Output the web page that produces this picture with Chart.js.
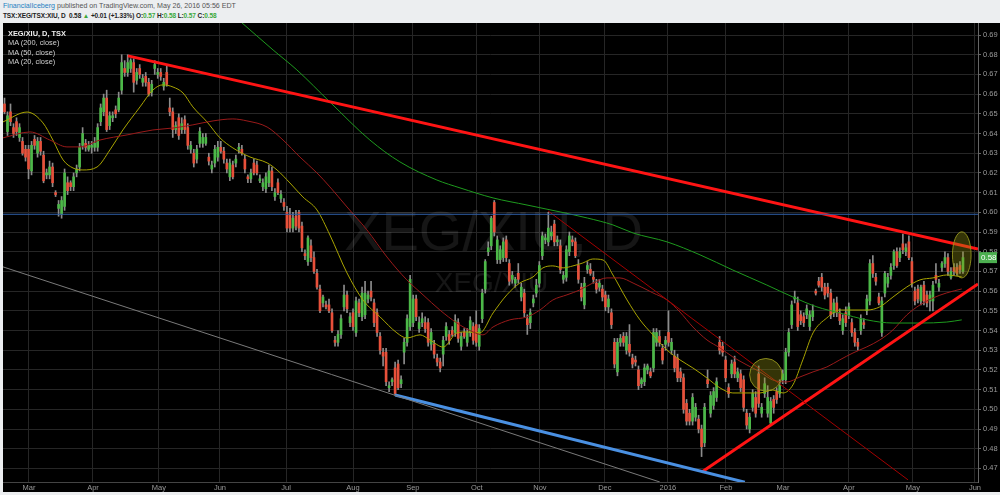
<!DOCTYPE html>
<html>
<head>
<meta charset="utf-8">
<script src="https://cdn.jsdelivr.net/npm/chart.js@4.4.1/dist/chart.umd.min.js"></script>
<style>
  html, body { margin: 0; padding: 0; width: 1000px; height: 495px; overflow: hidden; background: #eceef0; font-family: "Liberation Sans", Arial, sans-serif; }
  #head { position: absolute; left: 3px; top: 1px; font-size: 7.1px; line-height: 10px; color: #555; white-space: nowrap; }
  #head .l2 { color: #222; font-weight: bold; font-size: 6.5px; letter-spacing: -0.1px; }
  #head .g { color: #3aa83a; }
  #wrap { position: absolute; left: 3px; top: 23px; width: 997px; height: 469px; }
  #legend { position: absolute; left: 8px; top: 29px; font-size: 7.4px; line-height: 9.4px; color: #cfcfcf; white-space: nowrap; }
  #legend .t { color: #eee; font-weight: bold; }
</style>
</head>
<body>
<div id="head">
  <div><span style="color:#1f7fc1">FinancialIceberg</span> published on TradingView.com, May 26, 2016 05:56 EDT</div>
  <div class="l2">TSX:XEG/TSX:XIU, D&nbsp; 0.58 <span class="g">▲</span> +0.01 (+1.33%) O:<span class="g">0.57</span> H:<span class="g">0.58</span> L:<span class="g">0.57</span> C:<span class="g">0.58</span></div>
</div>
<div id="wrap"><canvas id="chart" width="997" height="469"></canvas></div>
<div id="legend">
  <div class="t">XEG/XIU, D, TSX</div>
  <div>MA (200, close)</div>
  <div>MA (50, close)</div>
  <div>MA (20, close)</div>
</div>
<script>
// daily candles, Feb 2015 -> May 26 2016  [open, high, low, close]
const ohlc = [
  [.655,.658,.650,.651],[.641,.651,.639,.649],[.651,.655,.644,.646],[.643,.645,.638,.640],[.646,.648,.639,.641],
  [.638,.645,.636,.643],[.636,.638,.629,.630],[.632,.634,.626,.628],[.632,.634,.617,.622],[.621,.636,.619,.634],
  [.637,.639,.632,.634],[.630,.638,.628,.636],[.636,.638,.629,.631],[.629,.631,.615,.616],[.619,.622,.617,.620],
  [.619,.626,.617,.623],[.623,.625,.613,.615],[.610,.611,.608,.609],[.602,.606,.598,.604],[.599,.608,.597,.606],
  [.603,.622,.601,.620],[.615,.618,.609,.611],[.615,.616,.611,.613],[.613,.620,.611,.618],[.620,.624,.618,.622],
  [.623,.635,.621,.633],[.634,.643,.632,.640],[.635,.637,.631,.633],[.632,.636,.631,.634],[.633,.636,.630,.634],
  [.633,.638,.631,.635],[.633,.645,.631,.643],[.646,.655,.644,.653],[.651,.660,.649,.658],[.658,.662,.641,.642],
  [.644,.651,.642,.649],[.648,.651,.646,.649],[.652,.654,.648,.650],[.652,.661,.651,.658],[.662,.680,.660,.676],
  [.673,.677,.669,.671],[.671,.680,.669,.676],[.673,.678,.671,.677],[.676,.678,.661,.666],[.667,.673,.665,.671],
  [.673,.675,.668,.670],[.666,.670,.664,.668],[.669,.671,.664,.666],[.666,.668,.659,.660],[.661,.667,.659,.665],
  [.673,.677,.670,.675],[.670,.673,.668,.671],[.671,.673,.667,.669],[.664,.668,.662,.666],[.671,.675,.664,.665],
  [.653,.658,.649,.651],[.651,.653,.638,.642],[.642,.646,.640,.644],[.648,.650,.637,.639],[.642,.648,.640,.645],
  [.647,.649,.640,.642],[.643,.645,.632,.634],[.632,.636,.630,.634],[.630,.632,.623,.625],[.627,.634,.625,.632],
  [.635,.643,.633,.641],[.635,.640,.633,.638],[.635,.640,.634,.638],[.628,.630,.624,.626],[.622,.626,.620,.624],
  [.625,.634,.623,.632],[.628,.636,.626,.633],[.633,.636,.630,.631],[.631,.633,.625,.627],[.625,.627,.620,.622],
  [.618,.627,.616,.625],[.624,.626,.617,.618],[.625,.629,.623,.627],[.632,.635,.630,.633],[.632,.634,.629,.630],
  [.627,.629,.620,.622],[.618,.619,.615,.617],[.617,.622,.615,.620],[.625,.627,.619,.620],[.624,.626,.619,.620],
  [.616,.619,.615,.617],[.613,.617,.611,.615],[.612,.620,.610,.618],[.615,.624,.613,.621],[.621,.623,.611,.613],
  [.608,.612,.606,.610],
  [.615,.617,.609,.610],[.607,.611,.605,.609],[.605,.607,.601,.603],[.600,.603,.590,.592],[.599,.602,.590,.592],
  [.592,.600,.590,.597],[.598,.601,.591,.593],[.600,.601,.590,.592],[.593,.595,.580,.582],[.579,.581,.576,.578],
  [.575,.588,.573,.587],[.583,.586,.575,.577],[.577,.580,.569,.570],[.569,.571,.561,.562],[.561,.563,.549,.550],
  [.554,.558,.552,.557],[.553,.555,.551,.552],[.553,.556,.549,.550],[.549,.551,.539,.540],[.535,.537,.532,.534],
  [.534,.540,.532,.538],[.538,.548,.536,.546],[.552,.563,.550,.558],[.558,.560,.549,.551],[.544,.549,.542,.547],
  [.549,.551,.540,.542],[.539,.557,.537,.555],[.554,.556,.547,.549],[.547,.562,.545,.559],[.548,.565,.546,.559],
  [.556,.560,.554,.558],[.560,.565,.555,.557],[.554,.556,.542,.544],[.549,.551,.537,.539],[.537,.539,.528,.530],
  [.529,.531,.522,.527],[.529,.531,.512,.514],[.511,.514,.509,.512],[.514,.516,.512,.515],[.521,.524,.507,.508],
  [.523,.525,.510,.511],[.513,.517,.511,.515],[.529,.536,.523,.534],[.534,.548,.532,.546],[.542,.568,.540,.566],
  [.544,.558,.542,.556],[.556,.558,.545,.547],[.541,.547,.539,.544],[.544,.549,.542,.546],[.544,.547,.539,.541],
  [.544,.546,.532,.534],[.533,.541,.530,.539],[.533,.535,.526,.528],[.526,.528,.522,.524],[.524,.526,.519,.521],
  [.528,.537,.522,.535],[.537,.544,.535,.542],[.538,.540,.533,.535],[.540,.542,.537,.538],[.539,.548,.537,.545],
  [.544,.546,.534,.536],[.532,.539,.530,.537],[.539,.541,.536,.537],[.534,.541,.532,.539],[.539,.547,.537,.545],
  [.542,.544,.533,.535],[.543,.550,.532,.534],[.532,.543,.530,.541],[.546,.561,.544,.559],[.561,.576,.559,.575],
  [.580,.585,.578,.582],[.583,.598,.581,.597],[.605,.606,.588,.590],[.576,.588,.574,.586],[.576,.583,.574,.581],
  [.577,.587,.575,.585],[.586,.588,.575,.577],[.574,.576,.563,.565],[.566,.570,.564,.568],[.564,.567,.562,.566],
  [.569,.574,.564,.566],[.557,.564,.555,.562],[.559,.561,.547,.549],[.546,.548,.538,.543],[.544,.551,.541,.549],
  [.554,.558,.552,.556],[.559,.566,.557,.563],[.564,.575,.562,.573],[.578,.590,.576,.588],[.586,.589,.584,.587],
  [.585,.600,.583,.592],[.588,.593,.586,.590],[.594,.596,.583,.585],[.585,.588,.583,.586],[.583,.586,.569,.571],
  [.566,.570,.564,.568],[.567,.583,.565,.581],[.580,.590,.578,.588],[.586,.588,.583,.585],[.585,.587,.577,.578],
  [.573,.576,.564,.566],[.562,.564,.555,.557],[.553,.567,.551,.564],[.571,.575,.569,.573],[.571,.574,.568,.569],
  [.567,.570,.564,.566],[.564,.566,.559,.561],[.562,.566,.560,.564],[.561,.563,.555,.557],[.558,.560,.550,.552],
  [.552,.558,.549,.556],[.549,.551,.541,.543],[.534,.536,.521,.523],[.519,.536,.517,.534],[.534,.538,.532,.536],
  [.537,.539,.532,.534],[.530,.539,.528,.537],[.533,.543,.527,.529],[.526,.528,.521,.523],[.525,.527,.522,.524],
  [.520,.522,.510,.512],[.513,.516,.511,.515],[.514,.523,.512,.521],[.520,.523,.518,.522],[.519,.521,.516,.517],
  [.521,.541,.519,.539],[.534,.541,.532,.539],[.537,.540,.532,.534],[.531,.533,.523,.525],[.533,.537,.530,.535],
  [.539,.550,.532,.534],[.530,.536,.528,.534],[.527,.530,.519,.521],[.526,.528,.514,.516],[.519,.521,.514,.516],
  [.516,.518,.498,.500],[.503,.505,.492,.494],[.498,.500,.492,.494],[.494,.508,.492,.506],[.496,.503,.494,.501],
  [.495,.497,.488,.490],[.490,.492,.476,.481],[.483,.503,.481,.501],[.515,.520,.511,.513],[.498,.509,.496,.507],
  [.502,.511,.500,.509],[.506,.516,.504,.514],[.534,.537,.528,.530],[.532,.534,.527,.529],[.525,.527,.514,.516],
  [.511,.513,.506,.508],[.518,.525,.516,.523],[.524,.527,.516,.518],[.516,.521,.514,.519],[.518,.520,.509,.511],
  [.515,.517,.499,.501],[.498,.500,.490,.492],[.490,.498,.488,.496],[.501,.510,.499,.508],[.506,.509,.496,.498],
  [.518,.522,.501,.503],[.498,.503,.496,.501],[.508,.516,.506,.513],[.498,.512,.496,.506],[.493,.506,.492,.504],
  [.505,.507,.498,.501],[.509,.511,.503,.505],[.508,.515,.506,.512],[.515,.520,.513,.518],[.515,.531,.513,.529],
  [.529,.541,.527,.539],[.543,.555,.541,.553],[.556,.560,.554,.557],[.554,.557,.540,.542],[.548,.550,.543,.545],
  [.547,.549,.542,.544],[.548,.553,.546,.551],[.542,.550,.540,.548],[.547,.553,.545,.550],[.560,.561,.558,.559],
  [.565,.567,.562,.563],[.567,.569,.560,.562],[.562,.564,.556,.558],[.562,.564,.557,.559],[.559,.561,.546,.548],
  [.549,.556,.547,.554],[.554,.557,.547,.549],[.549,.551,.543,.545],[.540,.548,.538,.546],[.549,.552,.542,.544],
  [.548,.554,.546,.552],[.544,.546,.537,.539],[.539,.541,.532,.534],[.534,.536,.530,.532],[.540,.548,.538,.546],
  [.544,.546,.541,.543],[.550,.558,.548,.556],[.555,.576,.553,.574],[.574,.578,.567,.569],[.567,.569,.563,.565],
  [.557,.559,.553,.554],[.539,.557,.537,.555],[.559,.570,.557,.569],[.564,.569,.562,.567],[.568,.574,.566,.572],
  [.573,.581,.571,.580],[.580,.582,.572,.573],[.577,.582,.575,.580],[.584,.589,.579,.581],[.580,.584,.578,.582],
  [.585,.588,.576,.577],[.575,.577,.562,.564],[.560,.562,.553,.555],[.561,.563,.554,.556],[.555,.563,.553,.562],
  [.563,.565,.553,.555],[.558,.560,.552,.554],[.555,.560,.550,.558],[.555,.565,.550,.563],[.568,.574,.564,.566],
  [.562,.566,.560,.564],[.572,.575,.570,.574],[.574,.580,.572,.577],[.577,.579,.568,.570],[.567,.572,.566,.570],
  [.572,.574,.568,.570],[.572,.574,.568,.569],[.573,.575,.569,.571],[.570,.580,.569,.577]
];

// moving averages  [bar index, value]
const ma20 = [
  [-0.5,.6459],[7.5,.6509],[12.8,.6454],[16.1,.6367],[19.5,.6266],[22.8,.6225],[26.1,.6215],[30.8,.6230],
  [35.1,.6317],[39.4,.6418],[45.1,.6535],[49.4,.6621],[52.7,.6647],[56.1,.6636],[59.4,.6606],[62.7,.6535],
  [67.4,.6459],[71.7,.6378],[76,.6327],[81.7,.6281],[87.4,.6251],[90.7,.6215],[95,.6149],[99.3,.6078],
  [104,.6012],[108.3,.5885],[114,.5692],[119.3,.5555],[125,.5469],[130.6,.5388],[133.9,.5362],[138.3,.5378],
  [141.6,.5352],[146,.5316],[150.6,.5388],[154,.5393],[158.2,.5388],[162.6,.5489],[167.2,.5581],[171.5,.5641],
  [175.9,.5672],[179.2,.5718],[182.5,.5728],[185.9,.5718],[189.2,.5728],[192.5,.5743],[195.8,.5763],[199.2,.5758],
  [202.5,.5682],[207.2,.5555],[211.5,.5454],[215.8,.5378],[220.5,.5301],[224.8,.5251],[229.1,.5210],[233.8,.5159],
  [238.1,.5109],[242.4,.5083],[247.1,.5083],[251.4,.5083],[255.7,.5098],[259.1,.5083],[262.4,.5124],[265.7,.5251],
  [269.1,.5388],[273.7,.5464],[278,.5504],[282.4,.5504],[287,.5504],[291.3,.5520],[295.7,.5570],[300.3,.5621],
  [304.7,.5657],[309,.5667],[313.6,.5682],[318.6,.5672]
];
const ma50 = [
  [-0.5,.6378],[8.5,.6408],[15.1,.6367],[20.8,.6332],[25.1,.6332],[31.8,.6367],[40.8,.6393],[49.4,.6418],
  [56.1,.6428],[62.7,.6444],[69.4,.6464],[76,.6474],[80.7,.6464],[87.4,.6433],[92.7,.6367],[98.3,.6281],
  [104,.6200],[108.3,.6129],[114,.6027],[120.6,.5911],[127.3,.5773],[133.9,.5657],[139.3,.5581],[144.9,.5504],
  [150.6,.5438],[155.9,.5393],[159.2,.5378],[162.6,.5418],[168.2,.5454],[173.9,.5469],[178.2,.5504],[182.5,.5555],
  [187.2,.5581],[191.5,.5606],[195.8,.5641],[200.5,.5667],[204.8,.5667],[209.2,.5641],[215.8,.5591],[220.5,.5555],
  [224.8,.5494],[229.1,.5418],[233.8,.5352],[238.1,.5312],[242.4,.5266],[247.1,.5225],[251.4,.5190],[255.7,.5149],
  [260.4,.5139],[264.7,.5164],[269.1,.5190],[273.7,.5215],[278,.5251],[282.4,.5286],[287,.5317],[291.3,.5352],
  [295.7,.5403],[300.3,.5479],[304.7,.5530],[309,.5565],[313.6,.5591],[318.6,.5611]
];
const ma200 = [
  [73.4,.7037],[89.4,.6824],[97.3,.6723],[108.3,.6560],[121.6,.6367],[131.6,.6256],[143.9,.6164],[151.6,.6124],
  [162.6,.6073],[173.9,.6037],[184.9,.6002],[194,.5971],[202.5,.5936],[209.2,.5895],[220.5,.5850],[231.5,.5784],
  [242.4,.5707],[253.7,.5631],[262.4,.5570],[270.4,.5520],[278,.5489],[287,.5454],[295.7,.5438],[304.7,.5438],
  [313.6,.5443],[318.6,.5454]
];

// drawn trend lines  [bar index, value] endpoints
const resistance = [[41.1, .6794], [324, .5814]];
const support = [[232.1, .4682], [324, .5636]];
const lowerBlue = [[130, .5073], [246.4, .4630]];
const greyLine = [[-0.5, .5723], [218.1, .4631]];
const thinRed = [[180.9, .6007], [300.7, .4642]];
const level = [[-0.5, .599], [324, .599]];

// yellow highlight marks  (centre index/value, half width in bars, half height in price)
const highlights = [
  { x: 253.4, y: .5175, rx: 5.4, ry: .0083 },
  { x: 318.6, y: .5784, rx: 3.1, ry: .0117 }
];

const monthTicks = [8.15, 29.45, 51.4, 71.7, 93.7, 116.0, 135.9, 157.2, 178.2, 199.8, 220.8, 240.1, 259.1, 281.0, 302.3, 323.0];
const monthLabels = ['Mar', 'Apr', 'May', 'Jun', 'Jul', 'Aug', 'Sep', 'Oct', 'Nov', 'Dec', '2016', 'Feb', 'Mar', 'Apr', 'May', 'Jun'];
const priceTicks = [0.47, 0.48, 0.49, 0.50, 0.51, 0.52, 0.53, 0.54, 0.55, 0.56, 0.57, 0.58, 0.59, 0.60, 0.61, 0.62, 0.63, 0.64, 0.65, 0.66, 0.67, 0.68, 0.69];

const UP = '#4cb848';
const DOWN = '#e8503a';
const FONT = '"Liberation Sans", Arial, sans-serif';

const pts = arr => arr.map(p => ({ x: p[0], y: p[1] }));
const candleColor = ctx => {
  const r = ohlc[ctx.dataIndex];
  return r && r[3] >= r[0] ? UP : DOWN;
};

function lineSet(data, color, width, tension) {
  return {
    type: 'line',
    data: pts(data),
    borderColor: color,
    borderWidth: width,
    pointRadius: 0,
    tension: tension,
    cubicInterpolationMode: tension ? 'monotone' : 'default',
    order: 0
  };
}

function noPadding(s) {
  s.paddingLeft = 0;
  s.paddingRight = 0;
  s.paddingTop = 0;
  s.paddingBottom = 0;
}

// black background
const bgPlugin = {
  id: 'bg',
  beforeDraw(c) {
    const g = c.ctx;
    g.save();
    g.fillStyle = '#000';
    g.fillRect(0, 0, c.width, c.height);
    g.restore();
  }
};

// big faint symbol text behind the candles
const watermark = {
  id: 'watermark',
  beforeDatasetsDraw(c) {
    const a = c.chartArea, g = c.ctx;
    const cx = (a.left + a.right) / 2, cy = (a.top + a.bottom) / 2;
    g.save();
    g.fillStyle = 'rgba(255,255,255,0.085)';
    g.textAlign = 'center';
    g.textBaseline = 'middle';
    g.font = '56px ' + FONT;
    g.fillText('XEG/XIU, D', cx + 3, cy - 18);
    g.font = '28px ' + FONT;
    g.fillText('XEG/XIU', cx + 1, cy + 32);
    g.restore();
  }
};

// yellow ellipses
const marks = {
  id: 'marks',
  afterDatasetsDraw(c) {
    const xs = c.scales.x, ys = c.scales.y, g = c.ctx;
    g.save();
    highlights.forEach(h => {
      const px = xs.getPixelForValue(h.x), py = ys.getPixelForValue(h.y);
      const rx = Math.abs(xs.getPixelForValue(h.x + h.rx) - px);
      const ry = Math.abs(ys.getPixelForValue(h.y + h.ry) - py);
      g.beginPath();
      g.ellipse(px, py, rx, ry, 0, 0, Math.PI * 2);
      g.fillStyle = 'rgba(150,150,20,0.35)';
      g.fill();
      g.strokeStyle = 'rgba(150,150,30,0.9)';
      g.lineWidth = 1;
      g.stroke();
    });
    g.restore();
  }
};

// last price tag on the axis
const lastTag = {
  id: 'lastTag',
  afterDraw(c) {
    const last = ohlc[ohlc.length - 1][3];
    const y = c.scales.y.getPixelForValue(last);
    const x = c.chartArea.right + 1;
    const g = c.ctx;
    g.save();
    g.fillStyle = '#4caf50';
    g.fillRect(x, y - 5.5, 18, 11);
    g.fillStyle = '#fff';
    g.font = '8px ' + FONT;
    g.textBaseline = 'middle';
    g.fillText(last.toFixed(2), x + 2, y + 0.5);
    g.restore();
  }
};

new Chart(document.getElementById('chart'), {
  type: 'bar',
  data: {
    datasets: [
      lineSet(level, '#2f5fa8', 1, 0),
      lineSet(greyLine, '#7a7a7a', 1, 0),
      lineSet(thinRed, '#a30000', 1, 0),
      lineSet(lowerBlue, '#4a90e2', 3, 0),
      lineSet(resistance, '#ff1414', 3, 0),
      lineSet(support, '#ff1414', 3, 0),
      lineSet(ma200, '#1e9a1e', 1, 0.4),
      lineSet(ma50, '#9a1a1a', 1, 0.4),
      lineSet(ma20, '#a9a400', 1, 0.4),
      {
        data: ohlc.map((r, i) => ({ x: i, y: [Math.min(r[0], r[3]), Math.max(r[0], r[3])] })),
        backgroundColor: candleColor,
        barThickness: 2,
        grouped: false,
        order: 1
      },
      {
        data: ohlc.map((r, i) => ({ x: i, y: [r[2], r[1]] })),
        backgroundColor: '#8c8c8c',
        barThickness: 1,
        grouped: false,
        order: 2
      }
    ]
  },
  options: {
    responsive: false,
    animation: false,
    events: [],
    layout: { padding: 0 },
    plugins: { legend: { display: false }, tooltip: { enabled: false } },
    scales: {
      x: {
        type: 'linear',
        offset: false,
        min: -0.5,
        max: 324,
        afterBuildTicks: s => { s.ticks = monthTicks.map(v => ({ value: v })); },
        afterFit: s => { s.height = 10; noPadding(s); },
        ticks: {
          callback: (v, i) => monthLabels[i],
          color: '#9a9a9a',
          font: { size: 7.5, family: FONT },
          padding: 1,
          maxRotation: 0,
          autoSkip: false
        },
        grid: { color: '#262626', drawTicks: false, offset: false },
        border: { color: '#444' }
      },
      y: {
        position: 'right',
        min: 0.4631,
        max: 0.6961,
        afterBuildTicks: s => { s.ticks = priceTicks.map(v => ({ value: v })); },
        afterFit: s => { s.width = 22; noPadding(s); },
        ticks: {
          callback: v => v.toFixed(2),
          color: '#9a9a9a',
          font: { size: 7.5, family: FONT },
          padding: 2
        },
        grid: { color: '#262626', tickLength: 3, tickColor: '#666' },
        border: { color: '#666' }
      }
    }
  },
  plugins: [bgPlugin, watermark, marks, lastTag]
});
</script>
</body>
</html>
